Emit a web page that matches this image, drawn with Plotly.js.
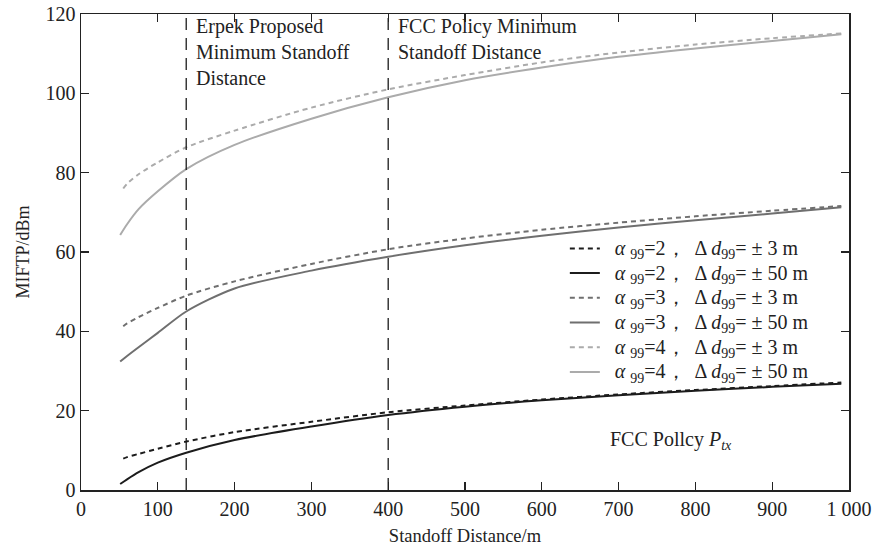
<!DOCTYPE html>
<html>
<head>
<meta charset="utf-8">
<script src="https://cdn.plot.ly/plotly-3.0.1.min.js"></script>
<style>html,body{margin:0;padding:0;background:#fff;}#chart{width:886px;height:550px;}</style>
</head>
<body>
<div id="chart"></div>
<script>
// Standoff distance (m)
const xSolid = [51, 60, 75, 100, 137, 200, 300, 400, 500, 600, 700, 800, 900, 990];
const xDash  = [55, 60, 75, 100, 137, 200, 300, 400, 500, 600, 700, 800, 900, 990];

// MIFTP (dBm)
const a2_d3  = [7.9, 8.3, 9.1, 10.4, 12.2, 14.6, 17.2, 19.6, 21.3, 22.8, 24.1, 25.2, 26.2, 27.1];
const a2_d50 = [1.5, 2.7, 4.5, 6.9, 9.4, 12.6, 16.0, 18.9, 21.0, 22.6, 23.9, 25.0, 26.0, 26.8];
const a3_d3  = [41.3, 42.0, 43.6, 45.9, 49.0, 52.6, 57.0, 60.7, 63.4, 65.6, 67.4, 69.0, 70.4, 71.6];
const a3_d50 = [32.4, 33.8, 36.0, 39.6, 45.0, 50.8, 55.3, 58.8, 61.7, 64.1, 66.2, 68.0, 69.7, 71.3];
const a4_d3  = [76.0, 77.2, 79.6, 82.6, 86.4, 90.6, 96.4, 101.0, 104.6, 107.8, 110.3, 112.3, 113.9, 115.1];
const a4_d50 = [64.3, 67.0, 70.8, 75.3, 80.9, 87.0, 93.6, 99.0, 103.3, 106.5, 109.2, 111.3, 113.2, 114.9];

const alphas = [2, 2, 3, 3, 4, 4];
const deltas = ["3", "50", "3", "50", "3", "50"];
const sp = "\u00a0\u00a0";
const legendNames = alphas.map((a, i) =>
  '<span style="font-size:20px">' + sp + '<i>α</i> <sub>99</sub>=' + a +
  '，\u00a0 Δ <i>d</i><sub>99</sub>= ± ' + deltas[i] + ' m</span>');

// Reference standoff distances (vertical lines)
const erpekX = 137;
const fccX = 400;
const yRange = [0, 120];

const xTickVals = [0, 100, 200, 300, 400, 500, 600, 700, 800, 900, 1000];
const xTickText = ["0", "100", "200", "300", "400", "500", "600", "700", "800", "900", "1 000"];
const yTickVals = [0, 20, 40, 60, 80, 100, 120];

const cBlack = "#1c1c1c", cMid = "#6f6f6f", cLight = "#ababab";
const dashP = "5px,4px";

const traces = [
  {x: xDash, y: a2_d3, name: legendNames[0], mode: "lines", line: {color: cBlack, width: 2, dash: dashP, shape: "spline", smoothing: 0.8}},
  {x: xSolid, y: a2_d50, name: legendNames[1], mode: "lines", line: {color: cBlack, width: 2, shape: "spline", smoothing: 0.8}},
  {x: xDash, y: a3_d3, name: legendNames[2], mode: "lines", line: {color: cMid, width: 2, dash: dashP, shape: "spline", smoothing: 0.8}},
  {x: xSolid, y: a3_d50, name: legendNames[3], mode: "lines", line: {color: cMid, width: 2, shape: "spline", smoothing: 0.8}},
  {x: xDash, y: a4_d3, name: legendNames[4], mode: "lines", line: {color: cLight, width: 2, dash: dashP, shape: "spline", smoothing: 0.8}},
  {x: xSolid, y: a4_d50, name: legendNames[5], mode: "lines", line: {color: cLight, width: 2, shape: "spline", smoothing: 0.8}},
  {x: [erpekX, erpekX], y: yRange, mode: "lines", showlegend: false, hoverinfo: "skip", line: {color: cBlack, width: 1.3, dash: "12px,8px"}},
  {x: [fccX, fccX], y: yRange, mode: "lines", showlegend: false, hoverinfo: "skip", line: {color: cBlack, width: 1.3, dash: "12px,8px"}}
];

const font = "Liberation Serif, Times New Roman, serif";

const layout = {
  width: 886, height: 550,
  margin: {l: 81, r: 37, t: 14, b: 60},
  paper_bgcolor: "#fff", plot_bgcolor: "#fff",
  font: {family: font, size: 19, color: "#222"},
  showlegend: true,
  legend: {x: 0.63, y: 0.544, xanchor: "left", yanchor: "top", bgcolor: "rgba(0,0,0,0)",
           font: {family: font, size: 16.7, color: "#222"}, tracegroupgap: 0, itemwidth: 30},
  xaxis: {range: [0, 1000], tickvals: xTickVals, ticktext: xTickText, ticks: "inside", ticklen: 8,
          tickwidth: 1.3, tickcolor: "#222", showline: true, linecolor: "#222", linewidth: 1.5,
          mirror: "ticks", showgrid: false, zeroline: false,
          tickfont: {family: font, size: 20, color: "#222"},
          title: {text: "Standoff Distance/m", font: {family: font, size: 18.5, color: "#222"}, standoff: 10}},
  yaxis: {range: yRange, tickvals: yTickVals, ticks: "inside", ticklen: 8,
          tickwidth: 1.3, tickcolor: "#222", showline: true, linecolor: "#222", linewidth: 1.5,
          mirror: "ticks", showgrid: false, zeroline: false,
          tickfont: {family: font, size: 20, color: "#222"},
          title: {text: "MIFTP/dBm", font: {family: font, size: 18, color: "#222"}, standoff: 11}},
  annotations: [
    {x: erpekX, y: 120, xref: "x", yref: "y", xanchor: "left", yanchor: "top", xshift: 8, yshift: 1,
     align: "left", showarrow: false,
     text: "Erpek Proposed<br>Minimum Standoff<br>Distance",
     font: {family: font, size: 20, color: "#222"}},
    {x: fccX, y: 120, xref: "x", yref: "y", xanchor: "left", yanchor: "top", xshift: 8, yshift: 1,
     align: "left", showarrow: false,
     text: "FCC Policy Minimum<br>Standoff Distance",
     font: {family: font, size: 20, color: "#222"}},
    {x: 768, y: 12.6, xref: "x", yref: "y", xanchor: "center", yanchor: "middle", showarrow: false,
     text: "FCC Pollcy <i>P</i><sub><i>tx</i></sub>",
     font: {family: font, size: 20, color: "#222"}}
  ]
};

Plotly.newPlot("chart", traces, layout, {staticPlot: true, displayModeBar: false});
</script>
</body>
</html>
